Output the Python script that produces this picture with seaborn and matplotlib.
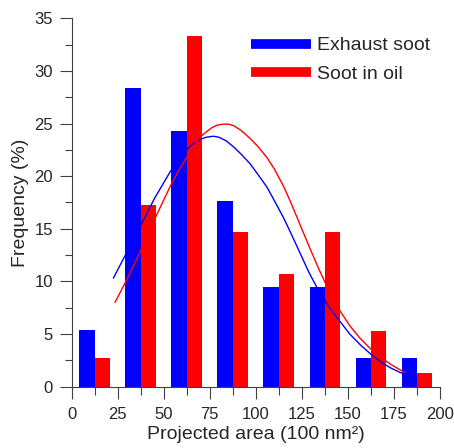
import matplotlib
matplotlib.use('Agg')
import matplotlib.pyplot as plt
from matplotlib.lines import Line2D
from matplotlib.ticker import MultipleLocator
import pandas as pd
import seaborn as sns

# bin centres of the projected area histogram (100 nm^2)
centres = [12.5, 37.5, 62.5, 87.5, 112.5, 137.5, 162.5, 187.5]
exhaust = [5.4, 28.4, 24.3, 17.6, 9.5, 9.5, 2.7, 2.7]
oil = [2.7, 17.3, 33.3, 14.7, 10.7, 14.7, 5.3, 1.3]

# fitted curves
exh_fit_x = [22.6, 30, 37.1, 45, 53.4, 58, 62.4, 66, 69.8, 73, 76.9, 80, 84, 87.8, 92, 96.8, 101, 105.9, 110, 114.9, 119, 124, 129, 134.8, 140, 145.7, 151, 156.6, 162, 167.4, 173, 178.3, 181]
exh_fit_y = [10.3, 12.8, 15.2, 17.9, 20.4, 21.6, 22.5, 23.1, 23.5, 23.7, 23.8, 23.7, 23.35, 22.8, 22.1, 21.2, 20.2, 19.0, 17.7, 16.1, 14.6, 12.7, 10.8, 8.9, 7.5, 6.2, 5.0, 4.0, 3.15, 2.4, 1.8, 1.35, 1.2]
oil_fit_x = [23.5, 30, 37.1, 45, 53.4, 58, 62.4, 66, 69.7, 73, 76, 79, 82.3, 85, 88, 92, 96.8, 101, 105.9, 110, 114.9, 119, 124, 129, 133.9, 140, 145.7, 151, 156.6, 162, 167.4, 173, 178.3, 181]
oil_fit_y = [8.0, 10.2, 12.8, 15.9, 19.0, 20.5, 21.8, 22.9, 23.7, 24.2, 24.6, 24.85, 24.95, 24.95, 24.8, 24.35, 23.6, 22.85, 21.8, 20.7, 19.1, 17.5, 15.4, 13.3, 11.3, 9.0, 7.2, 5.8, 4.6, 3.65, 2.85, 2.15, 1.6, 1.35]

labels = ['Exhaust soot', 'Soot in oil']

sns.set_style('ticks')
plt.rcParams['font.family'] = ['Liberation Sans', 'DejaVu Sans']

df = pd.DataFrame({
    'centre': centres * 2,
    'freq': exhaust + oil,
    'sample': [labels[0]] * len(centres) + [labels[1]] * len(centres),
})

fig = plt.figure(figsize=(4.54, 4.48), dpi=100)
ax = fig.add_axes([0.158, 0.137, 0.811, 0.822])

sns.barplot(data=df, x='centre', y='freq', hue='sample', native_scale=True,
            width=2/3, palette=['#0000ff', '#ff0000'], saturation=1,
            legend=False, ax=ax, errorbar=None, linewidth=0)
sns.lineplot(x=exh_fit_x, y=exh_fit_y, color='#0000ff', linewidth=1.0, ax=ax, sort=False)
sns.lineplot(x=oil_fit_x, y=oil_fit_y, color='#ff0000', linewidth=1.0, ax=ax, sort=False)

ax.set_xlim(0, 200)
ax.set_ylim(0, 35)
ax.xaxis.set_major_locator(MultipleLocator(25))
ax.xaxis.set_minor_locator(MultipleLocator(12.5))
ax.yaxis.set_major_locator(MultipleLocator(5))
ax.yaxis.set_minor_locator(MultipleLocator(2.5))
ax.set_xticks(range(0, 201, 25))
ax.set_xticklabels([str(v) for v in range(0, 201, 25)])
ax.tick_params(which='major', length=8.6, width=0.8, color='#404040', labelsize=12, pad=6)
ax.tick_params(axis='x', which='minor', length=5.8, width=0.8, color='#404040')
ax.tick_params(axis='y', which='minor', length=5, width=0.8, color='#404040')
ax.tick_params(axis='y', which='major', pad=5)
sns.despine(ax=ax)
for s in ['left', 'bottom']:
    ax.spines[s].set_color('#404040')
    ax.spines[s].set_linewidth(0.8)

ax.set_xlabel('Projected area (100 nm²)', fontsize=14, labelpad=3)
ax.set_ylabel('Frequency (%)', fontsize=14, labelpad=4)

handles = [Line2D([0], [0], color='#0000ff', linewidth=7, solid_capstyle='butt'),
           Line2D([0], [0], color='#ff0000', linewidth=7, solid_capstyle='butt')]
ax.legend(handles, labels, loc='upper left', bbox_to_anchor=(0.553, 0.918),
          bbox_transform=fig.transFigure, frameon=False, fontsize=14,
          handlelength=3.1, handletextpad=0.3, borderpad=0, borderaxespad=0,
          labelspacing=0.55)

fig.savefig('out.png', dpi=100)
